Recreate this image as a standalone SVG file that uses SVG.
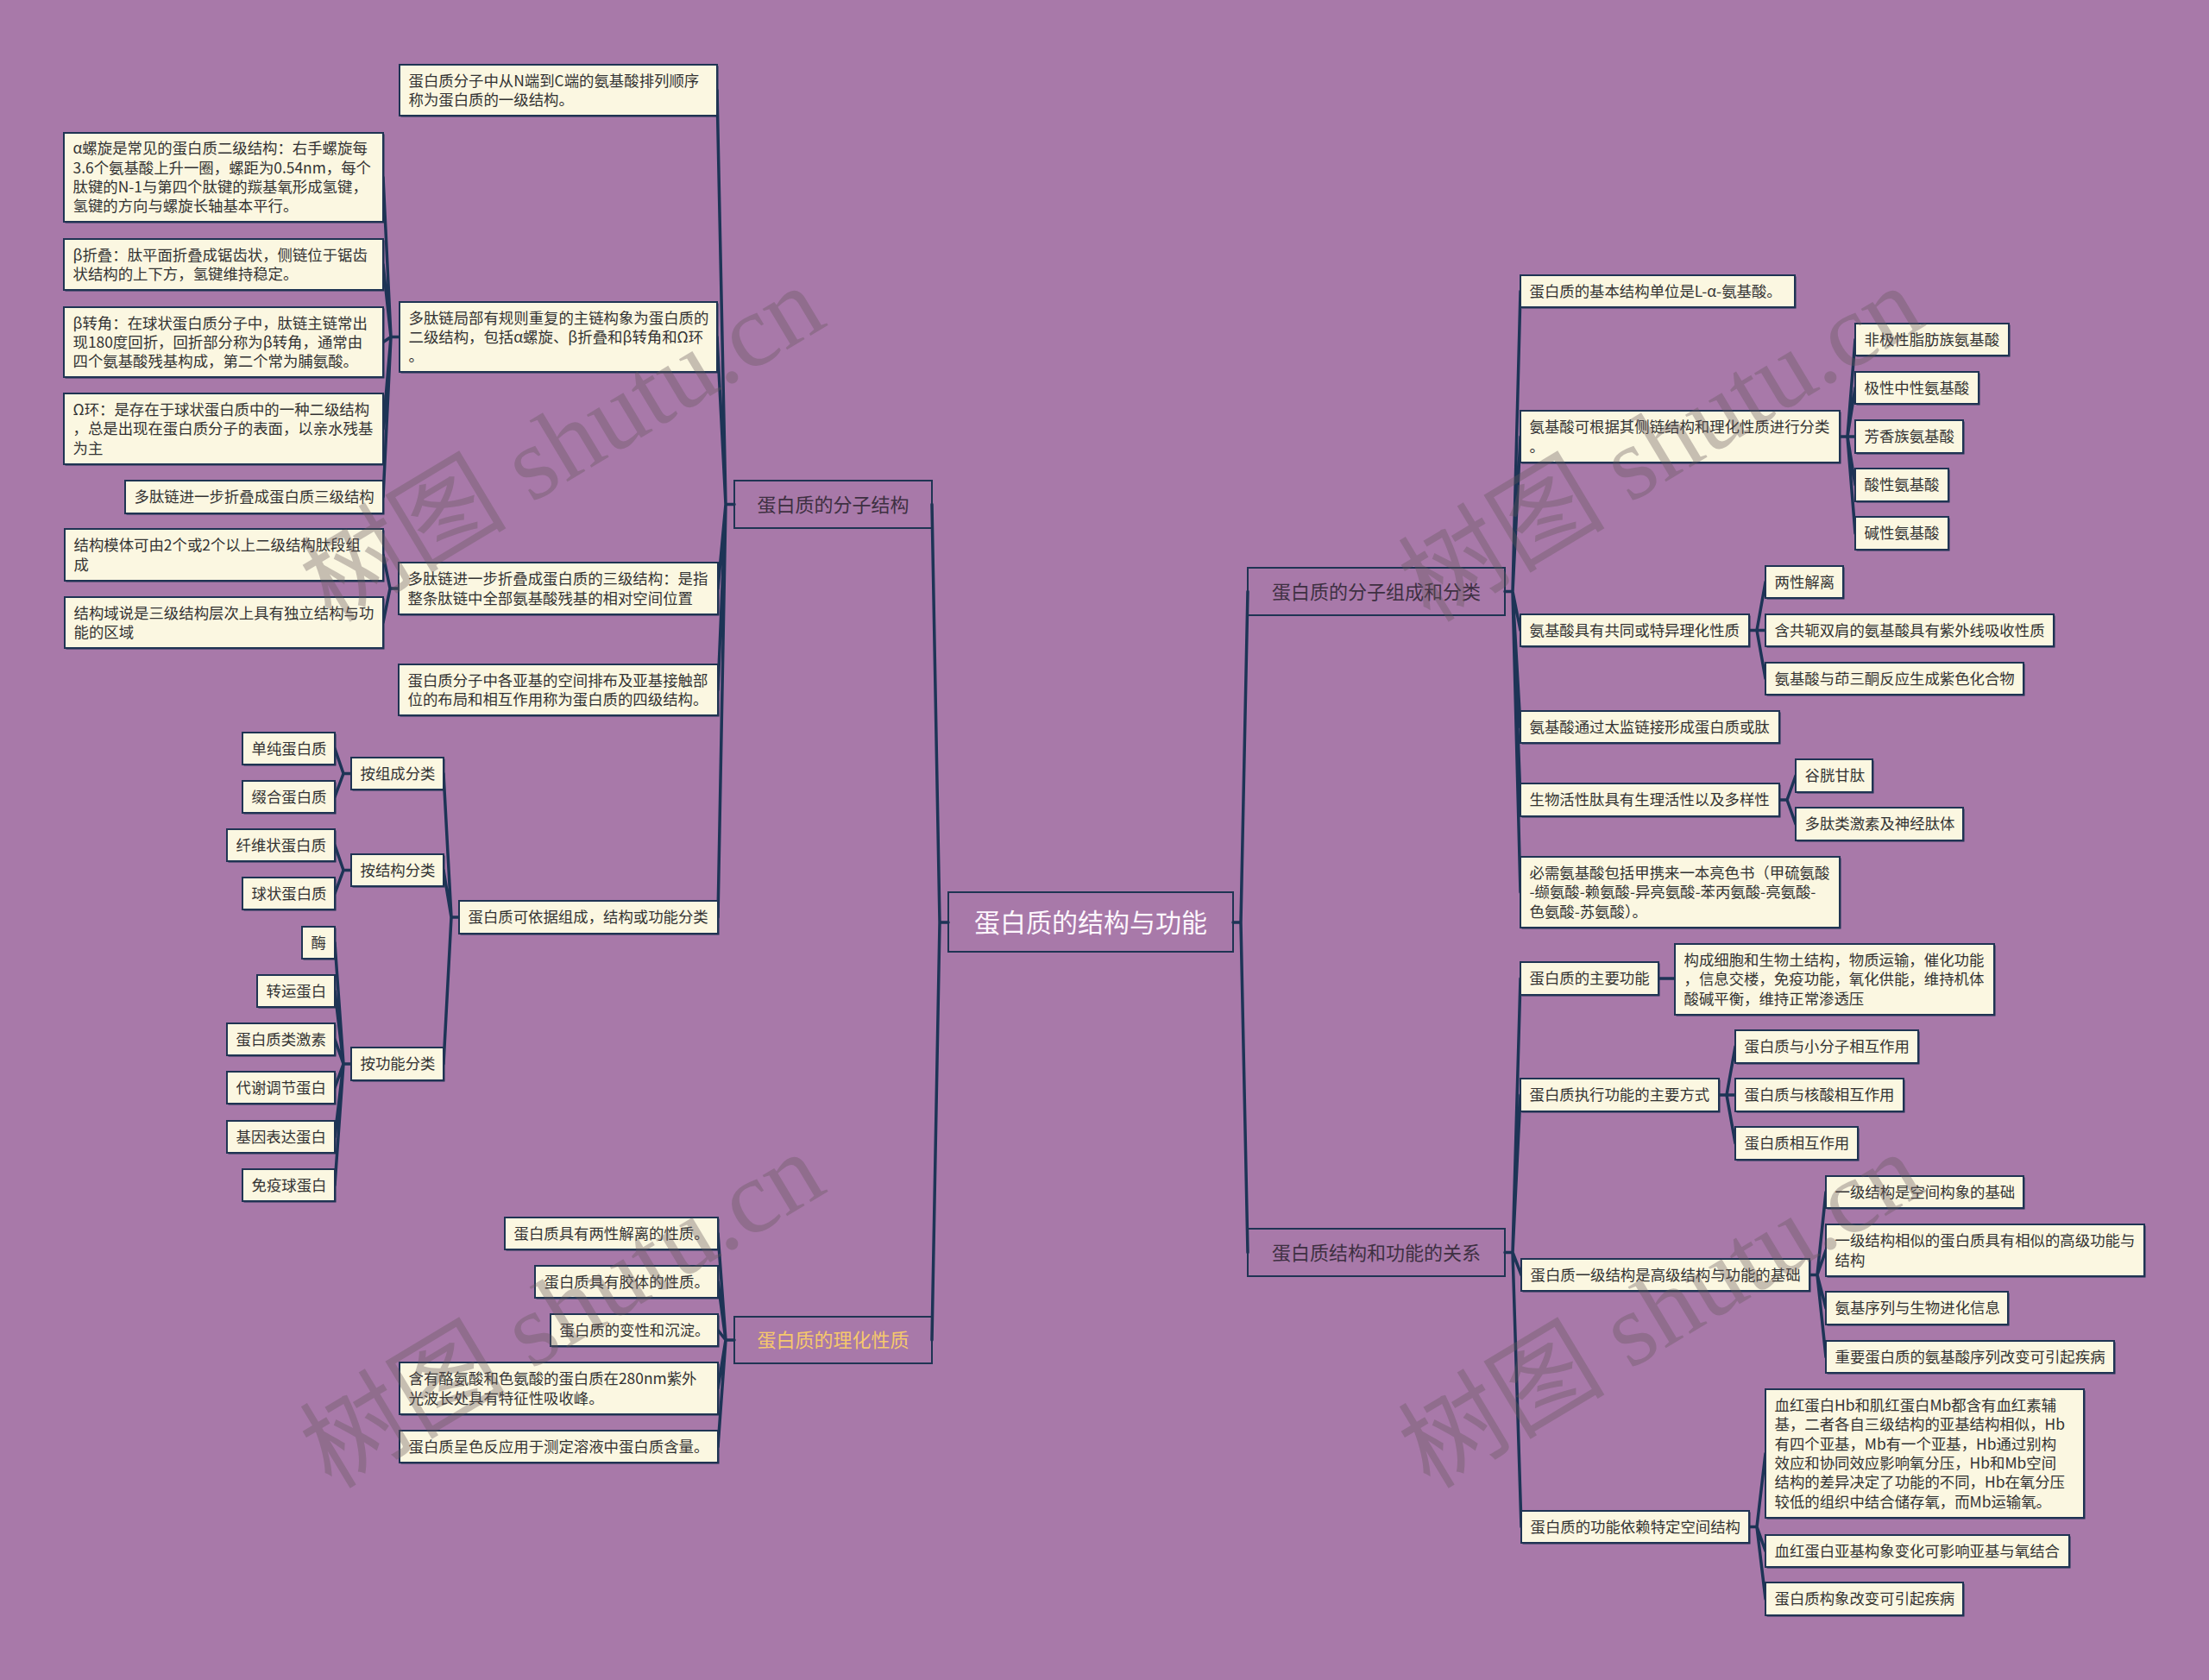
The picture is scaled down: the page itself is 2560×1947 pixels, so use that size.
<svg xmlns="http://www.w3.org/2000/svg" width="2560" height="1947" viewBox="0 0 2560 1947">
<style>
.bgc{fill:#a879a9}
.leaf .sh{fill:#1f3453}
.leaf .bx{fill:#fbf7e1;stroke:#1f3453;stroke-width:2}
.leaf text{font-family:'Noto Sans CJK SC','Noto Sans',sans-serif;font-size:17.4px;fill:#333333}
.l1 rect{fill:none;stroke:#1f3453;stroke-width:2}
.l1 text{font-family:'Noto Sans CJK SC','Noto Sans',sans-serif;font-size:22px;fill:#3e3042;text-anchor:middle}
.root rect{fill:none;stroke:#1f3453;stroke-width:2}
.root text{font-family:'Noto Sans CJK SC','Noto Sans',sans-serif;font-size:30px;fill:#fdf6fd;text-anchor:middle}
.conn path{fill:none;stroke:#1d3456;stroke-width:3.5;stroke-linejoin:round;stroke-linecap:round}
.wm{font-family:'Liberation Serif','Noto Sans CJK SC',serif;font-size:120px;fill:#65575b;opacity:0.35;text-anchor:middle}
</style>
<rect class="bgc" x="0" y="0" width="2560" height="1947"/>

<g id="connectors" class="conn">
<path d="M1099,1069 H1089 L1080,584.5 M1089,1069 L1080,1553"/>
<path d="M1429,1069 H1438 L1446,685.5 M1438,1069 L1446,1451.5"/>
<path d="M851,584.5 H841 L831,104.5 M841,584.5 L831,390.5 M841,584.5 L832,682 M841,584.5 L832,799.5 M841,584.5 L832,1063"/>
<path d="M463,390.5 H453 L444,205.5 M453,390.5 L444,306.5 M453,390.5 L444,396.5 M453,390.5 L444,497 M453,390.5 L444,576"/>
<path d="M462,682 H452 L444,643 M452,682 L444,721.5"/>
<path d="M532,1063 H523 L514,896.5 M523,1063 L514,1008.5 M523,1063 L514,1233"/>
<path d="M407,896.5 H398 L388,867.5 M398,896.5 L388,923.5"/>
<path d="M407,1008.5 H398 L388,979.5 M398,1008.5 L388,1035.5"/>
<path d="M407,1233 H398 L388,1092.5 M398,1233 L388,1148.5 M398,1233 L388,1204.5 M398,1233 L388,1260.5 M398,1233 L388,1317.5 M398,1233 L388,1373.5"/>
<path d="M851,1553 H841 L832,1429.5 M841,1553 L832,1485.5 M841,1553 L832,1541.5 M841,1553 L832,1609 M841,1553 L832,1676.5"/>
<path d="M1744,685.5 H1753 L1762,337.5 M1753,685.5 L1762,506 M1753,685.5 L1762,730.5 M1753,685.5 L1762,842.5 M1753,685.5 L1762,927 M1753,685.5 L1762,1034"/>
<path d="M2132,506 H2141 L2150,393.5 M2141,506 L2150,449.5 M2141,506 L2150,506 M2141,506 L2150,562 M2141,506 L2150,618"/>
<path d="M2027,730.5 H2036 L2046,674.5 M2036,730.5 L2046,730.5 M2036,730.5 L2046,786.5"/>
<path d="M2062,927 H2071 L2081,899 M2071,927 L2081,955"/>
<path d="M1744,1451.5 H1753 L1762,1134 M1753,1451.5 L1762,1269 M1753,1451.5 L1763,1477.5 M1753,1451.5 L1763,1769.5"/>
<path d="M1922,1134 H1941"/>
<path d="M1992,1269 H2001 L2011,1213 M2001,1269 L2011,1269 M2001,1269 L2011,1325"/>
<path d="M2097,1477.5 H2106 L2116,1381.5 M2106,1477.5 L2116,1449 M2106,1477.5 L2116,1516 M2106,1477.5 L2116,1572.5"/>
<path d="M2027,1769.5 H2036 L2046,1684.5 M2036,1769.5 L2046,1797.5 M2036,1769.5 L2046,1853"/>
</g>

<g id="root" class="root"><rect x="1099" y="1034" width="330" height="69"/><text x="1264" y="1080">蛋白质的结构与功能</text></g>

<g id="n-A" class="l1"><rect x="851" y="557" width="229" height="55"/><text x="965.5" y="592.5">蛋白质的分子结构</text></g>
<g id="n-B" class="l1"><rect x="851" y="1526" width="229" height="54"/><text x="965.5" y="1561" style="fill:#f6c86c">蛋白质的理化性质</text></g>
<g id="n-C" class="l1"><rect x="1446" y="658" width="298" height="55"/><text x="1595" y="693.5">蛋白质的分子组成和分类</text></g>
<g id="n-D" class="l1"><rect x="1446" y="1424" width="298" height="55"/><text x="1595" y="1459.5">蛋白质结构和功能的关系</text></g>

<g id="n-A1" class="leaf"><rect class="sh" x="464.5" y="76.5" width="368" height="59"/><rect class="bx" x="463" y="75" width="368" height="59"/><text x="473.5" y="99.6">蛋白质分子中从N端到C端的氨基酸排列顺序<tspan x="473.5" y="121.9">称为蛋白质的一级结构。</tspan></text></g>
<g id="n-A2" class="leaf"><rect class="sh" x="464.5" y="351.5" width="368" height="81"/><rect class="bx" x="463" y="350" width="368" height="81"/><text x="473.5" y="374.5">多肽链局部有规则重复的主链构象为蛋白质的<tspan x="473.5" y="396.8">二级结构，包括α螺旋、β折叠和β转角和Ω环</tspan><tspan x="473.5" y="419.1">。</tspan></text></g>
<g id="n-A2a" class="leaf"><rect class="sh" x="75.5" y="155.5" width="370" height="103"/><rect class="bx" x="74" y="154" width="370" height="103"/><text x="84.5" y="178.4">α螺旋是常见的蛋白质二级结构：右手螺旋每<tspan x="84.5" y="200.7">3.6个氨基酸上升一圈，螺距为0.54nm，每个</tspan><tspan x="84.5" y="223">肽键的N-1与第四个肽键的羰基氧形成氢键，</tspan><tspan x="84.5" y="245.3">氢键的方向与螺旋长轴基本平行。</tspan></text></g>
<g id="n-A2b" class="leaf"><rect class="sh" x="75.5" y="278.5" width="370" height="59"/><rect class="bx" x="74" y="277" width="370" height="59"/><text x="84.5" y="301.7">β折叠：肽平面折叠成锯齿状，侧链位于锯齿<tspan x="84.5" y="324">状结构的上下方，氢键维持稳定。</tspan></text></g>
<g id="n-A2c" class="leaf"><rect class="sh" x="75.5" y="357.5" width="370" height="81"/><rect class="bx" x="74" y="356" width="370" height="81"/><text x="84.5" y="380.5">β转角：在球状蛋白质分子中，肽链主链常出<tspan x="84.5" y="402.8">现180度回折，回折部分称为β转角，通常由</tspan><tspan x="84.5" y="425.1">四个氨基酸残基构成，第二个常为脯氨酸。</tspan></text></g>
<g id="n-A2d" class="leaf"><rect class="sh" x="75.5" y="457.5" width="370" height="82"/><rect class="bx" x="74" y="456" width="370" height="82"/><text x="84.5" y="481">Ω环：是存在于球状蛋白质中的一种二级结构<tspan x="84.5" y="503.3">，总是出现在蛋白质分子的表面，以亲水残基</tspan><tspan x="84.5" y="525.6">为主</tspan></text></g>
<g id="n-A2e" class="leaf"><rect class="sh" x="146.5" y="558.5" width="299" height="38"/><rect class="bx" x="145" y="557" width="299" height="38"/><text x="155.5" y="582.3">多肽链进一步折叠成蛋白质三级结构</text></g>
<g id="n-A3" class="leaf"><rect class="sh" x="463.5" y="653.5" width="370" height="60"/><rect class="bx" x="462" y="652" width="370" height="60"/><text x="472.5" y="677.2">多肽链进一步折叠成蛋白质的三级结构：是指<tspan x="472.5" y="699.5">整条肽链中全部氨基酸残基的相对空间位置</tspan></text></g>
<g id="n-A3a" class="leaf"><rect class="sh" x="76.5" y="614.5" width="369" height="60"/><rect class="bx" x="75" y="613" width="369" height="60"/><text x="85.5" y="638.2">结构模体可由2个或2个以上二级结构肽段组<tspan x="85.5" y="660.5">成</tspan></text></g>
<g id="n-A3b" class="leaf"><rect class="sh" x="76.5" y="693.5" width="369" height="59"/><rect class="bx" x="75" y="692" width="369" height="59"/><text x="85.5" y="716.7">结构域说是三级结构层次上具有独立结构与功<tspan x="85.5" y="739">能的区域</tspan></text></g>
<g id="n-A4" class="leaf"><rect class="sh" x="463.5" y="771.5" width="370" height="59"/><rect class="bx" x="462" y="770" width="370" height="59"/><text x="472.5" y="794.7">蛋白质分子中各亚基的空间排布及亚基接触部<tspan x="472.5" y="817">位的布局和相互作用称为蛋白质的四级结构。</tspan></text></g>
<g id="n-A5" class="leaf"><rect class="sh" x="533.5" y="1045.5" width="300" height="38"/><rect class="bx" x="532" y="1044" width="300" height="38"/><text x="542.5" y="1069.3">蛋白质可依据组成，结构或功能分类</text></g>
<g id="n-A5a" class="leaf"><rect class="sh" x="408.5" y="879.5" width="107" height="37"/><rect class="bx" x="407" y="878" width="107" height="37"/><text x="417.5" y="902.8">按组成分类</text></g>
<g id="n-A5b" class="leaf"><rect class="sh" x="408.5" y="991.5" width="107" height="37"/><rect class="bx" x="407" y="990" width="107" height="37"/><text x="417.5" y="1014.8">按结构分类</text></g>
<g id="n-A5c" class="leaf"><rect class="sh" x="408.5" y="1215.5" width="107" height="38"/><rect class="bx" x="407" y="1214" width="107" height="38"/><text x="417.5" y="1239.3">按功能分类</text></g>
<g id="n-A5a1" class="leaf"><rect class="sh" x="282.5" y="850.5" width="107" height="37"/><rect class="bx" x="281" y="849" width="107" height="37"/><text x="291.5" y="873.8">单纯蛋白质</text></g>
<g id="n-A5a2" class="leaf"><rect class="sh" x="282.5" y="906.5" width="107" height="37"/><rect class="bx" x="281" y="905" width="107" height="37"/><text x="291.5" y="929.8">缀合蛋白质</text></g>
<g id="n-A5b1" class="leaf"><rect class="sh" x="264.5" y="962.5" width="125" height="37"/><rect class="bx" x="263" y="961" width="125" height="37"/><text x="273.5" y="985.8">纤维状蛋白质</text></g>
<g id="n-A5b2" class="leaf"><rect class="sh" x="282.5" y="1018.5" width="107" height="37"/><rect class="bx" x="281" y="1017" width="107" height="37"/><text x="291.5" y="1041.8">球状蛋白质</text></g>
<g id="n-A5c1" class="leaf"><rect class="sh" x="351.5" y="1075.5" width="38" height="37"/><rect class="bx" x="350" y="1074" width="38" height="37"/><text x="360.5" y="1098.8">酶</text></g>
<g id="n-A5c2" class="leaf"><rect class="sh" x="299.5" y="1131.5" width="90" height="37"/><rect class="bx" x="298" y="1130" width="90" height="37"/><text x="308.5" y="1154.8">转运蛋白</text></g>
<g id="n-A5c3" class="leaf"><rect class="sh" x="264.5" y="1187.5" width="125" height="37"/><rect class="bx" x="263" y="1186" width="125" height="37"/><text x="273.5" y="1210.8">蛋白质类激素</text></g>
<g id="n-A5c4" class="leaf"><rect class="sh" x="264.5" y="1243.5" width="125" height="37"/><rect class="bx" x="263" y="1242" width="125" height="37"/><text x="273.5" y="1266.8">代谢调节蛋白</text></g>
<g id="n-A5c5" class="leaf"><rect class="sh" x="264.5" y="1300.5" width="125" height="37"/><rect class="bx" x="263" y="1299" width="125" height="37"/><text x="273.5" y="1323.8">基因表达蛋白</text></g>
<g id="n-A5c6" class="leaf"><rect class="sh" x="282.5" y="1356.5" width="107" height="37"/><rect class="bx" x="281" y="1355" width="107" height="37"/><text x="291.5" y="1379.8">免疫球蛋白</text></g>

<g id="n-B1" class="leaf"><rect class="sh" x="586.5" y="1412.5" width="247" height="37"/><rect class="bx" x="585" y="1411" width="247" height="37"/><text x="595.5" y="1435.8">蛋白质具有两性解离的性质。</text></g>
<g id="n-B2" class="leaf"><rect class="sh" x="621.5" y="1468.5" width="212" height="37"/><rect class="bx" x="620" y="1467" width="212" height="37"/><text x="630.5" y="1491.8">蛋白质具有胶体的性质。</text></g>
<g id="n-B3" class="leaf"><rect class="sh" x="639.5" y="1524.5" width="194" height="37"/><rect class="bx" x="638" y="1523" width="194" height="37"/><text x="648.5" y="1547.8">蛋白质的变性和沉淀。</text></g>
<g id="n-B4" class="leaf"><rect class="sh" x="464.5" y="1580.5" width="369" height="60"/><rect class="bx" x="463" y="1579" width="369" height="60"/><text x="473.5" y="1604.2">含有酪氨酸和色氨酸的蛋白质在280nm紫外<tspan x="473.5" y="1626.5">光波长处具有特征性吸收峰。</tspan></text></g>
<g id="n-B5" class="leaf"><rect class="sh" x="464.5" y="1659.5" width="369" height="37"/><rect class="bx" x="463" y="1658" width="369" height="37"/><text x="473.5" y="1682.8">蛋白质呈色反应用于测定溶液中蛋白质含量。</text></g>

<g id="n-C1" class="leaf"><rect class="sh" x="1763.5" y="320.5" width="318" height="37"/><rect class="bx" x="1762" y="319" width="318" height="37"/><text x="1772.5" y="343.8">蛋白质的基本结构单位是L-α-氨基酸。</text></g>
<g id="n-C2" class="leaf"><rect class="sh" x="1763.5" y="477.5" width="370" height="60"/><rect class="bx" x="1762" y="476" width="370" height="60"/><text x="1772.5" y="501.2">氨基酸可根据其侧链结构和理化性质进行分类<tspan x="1772.5" y="523.5">。</tspan></text></g>
<g id="n-C2a" class="leaf"><rect class="sh" x="2151.5" y="376.5" width="178" height="37"/><rect class="bx" x="2150" y="375" width="178" height="37"/><text x="2160.5" y="399.8">非极性脂肪族氨基酸</text></g>
<g id="n-C2b" class="leaf"><rect class="sh" x="2151.5" y="432.5" width="143" height="37"/><rect class="bx" x="2150" y="431" width="143" height="37"/><text x="2160.5" y="455.8">极性中性氨基酸</text></g>
<g id="n-C2c" class="leaf"><rect class="sh" x="2151.5" y="488.5" width="125" height="38"/><rect class="bx" x="2150" y="487" width="125" height="38"/><text x="2160.5" y="512.3">芳香族氨基酸</text></g>
<g id="n-C2d" class="leaf"><rect class="sh" x="2151.5" y="544.5" width="108" height="38"/><rect class="bx" x="2150" y="543" width="108" height="38"/><text x="2160.5" y="568.3">酸性氨基酸</text></g>
<g id="n-C2e" class="leaf"><rect class="sh" x="2151.5" y="600.5" width="108" height="38"/><rect class="bx" x="2150" y="599" width="108" height="38"/><text x="2160.5" y="624.3">碱性氨基酸</text></g>
<g id="n-C3" class="leaf"><rect class="sh" x="1763.5" y="713.5" width="265" height="37"/><rect class="bx" x="1762" y="712" width="265" height="37"/><text x="1772.5" y="736.8">氨基酸具有共同或特异理化性质</text></g>
<g id="n-C3a" class="leaf"><rect class="sh" x="2047.5" y="657.5" width="90" height="37"/><rect class="bx" x="2046" y="656" width="90" height="37"/><text x="2056.5" y="680.8">两性解离</text></g>
<g id="n-C3b" class="leaf"><rect class="sh" x="2047.5" y="713.5" width="334" height="37"/><rect class="bx" x="2046" y="712" width="334" height="37"/><text x="2056.5" y="736.8">含共轭双肩的氨基酸具有紫外线吸收性质</text></g>
<g id="n-C3c" class="leaf"><rect class="sh" x="2047.5" y="769.5" width="299" height="37"/><rect class="bx" x="2046" y="768" width="299" height="37"/><text x="2056.5" y="792.8">氨基酸与茚三酮反应生成紫色化合物</text></g>
<g id="n-C4" class="leaf"><rect class="sh" x="1763.5" y="825.5" width="300" height="37"/><rect class="bx" x="1762" y="824" width="300" height="37"/><text x="1772.5" y="848.8">氨基酸通过太监链接形成蛋白质或肽</text></g>
<g id="n-C5" class="leaf"><rect class="sh" x="1763.5" y="909.5" width="300" height="38"/><rect class="bx" x="1762" y="908" width="300" height="38"/><text x="1772.5" y="933.3">生物活性肽具有生理活性以及多样性</text></g>
<g id="n-C5a" class="leaf"><rect class="sh" x="2082.5" y="881.5" width="89" height="38"/><rect class="bx" x="2081" y="880" width="89" height="38"/><text x="2091.5" y="905.3">谷胱甘肽</text></g>
<g id="n-C5b" class="leaf"><rect class="sh" x="2082.5" y="937.5" width="194" height="38"/><rect class="bx" x="2081" y="936" width="194" height="38"/><text x="2091.5" y="961.3">多肽类激素及神经肽体</text></g>
<g id="n-C6" class="leaf"><rect class="sh" x="1763.5" y="994.5" width="370" height="82"/><rect class="bx" x="1762" y="993" width="370" height="82"/><text x="1772.5" y="1018">必需氨基酸包括甲携来一本亮色书（甲硫氨酸<tspan x="1772.5" y="1040.3">-缬氨酸-赖氨酸-异亮氨酸-苯丙氨酸-亮氨酸-</tspan><tspan x="1772.5" y="1062.6">色氨酸-苏氨酸）。</tspan></text></g>

<g id="n-D1" class="leaf"><rect class="sh" x="1763.5" y="1116.5" width="160" height="38"/><rect class="bx" x="1762" y="1115" width="160" height="38"/><text x="1772.5" y="1140.3">蛋白质的主要功能</text></g>
<g id="n-D1a" class="leaf"><rect class="sh" x="1942.5" y="1095.5" width="370" height="82"/><rect class="bx" x="1941" y="1094" width="370" height="82"/><text x="1951.5" y="1119">构成细胞和生物土结构，物质运输，催化功能<tspan x="1951.5" y="1141.3">，信息交楼，免疫功能，氧化供能，维持机体</tspan><tspan x="1951.5" y="1163.6">酸碱平衡，维持正常渗透压</tspan></text></g>
<g id="n-D2" class="leaf"><rect class="sh" x="1763.5" y="1251.5" width="230" height="38"/><rect class="bx" x="1762" y="1250" width="230" height="38"/><text x="1772.5" y="1275.3">蛋白质执行功能的主要方式</text></g>
<g id="n-D2a" class="leaf"><rect class="sh" x="2012.5" y="1195.5" width="212" height="38"/><rect class="bx" x="2011" y="1194" width="212" height="38"/><text x="2021.5" y="1219.3">蛋白质与小分子相互作用</text></g>
<g id="n-D2b" class="leaf"><rect class="sh" x="2012.5" y="1251.5" width="195" height="38"/><rect class="bx" x="2011" y="1250" width="195" height="38"/><text x="2021.5" y="1275.3">蛋白质与核酸相互作用</text></g>
<g id="n-D2c" class="leaf"><rect class="sh" x="2012.5" y="1307.5" width="142" height="38"/><rect class="bx" x="2011" y="1306" width="142" height="38"/><text x="2021.5" y="1331.3">蛋白质相互作用</text></g>
<g id="n-D3" class="leaf"><rect class="sh" x="1764.5" y="1460.5" width="334" height="37"/><rect class="bx" x="1763" y="1459" width="334" height="37"/><text x="1773.5" y="1483.8">蛋白质一级结构是高级结构与功能的基础</text></g>
<g id="n-D3a" class="leaf"><rect class="sh" x="2117.5" y="1364.5" width="229" height="37"/><rect class="bx" x="2116" y="1363" width="229" height="37"/><text x="2126.5" y="1387.8">一级结构是空间构象的基础</text></g>
<g id="n-D3b" class="leaf"><rect class="sh" x="2117.5" y="1420.5" width="369" height="60"/><rect class="bx" x="2116" y="1419" width="369" height="60"/><text x="2126.5" y="1444.2">一级结构相似的蛋白质具有相似的高级功能与<tspan x="2126.5" y="1466.5">结构</tspan></text></g>
<g id="n-D3c" class="leaf"><rect class="sh" x="2117.5" y="1498.5" width="211" height="38"/><rect class="bx" x="2116" y="1497" width="211" height="38"/><text x="2126.5" y="1522.3">氨基序列与生物进化信息</text></g>
<g id="n-D3d" class="leaf"><rect class="sh" x="2117.5" y="1555.5" width="334" height="37"/><rect class="bx" x="2116" y="1554" width="334" height="37"/><text x="2126.5" y="1578.8">重要蛋白质的氨基酸序列改变可引起疾病</text></g>
<g id="n-D4" class="leaf"><rect class="sh" x="1764.5" y="1752.5" width="264" height="37"/><rect class="bx" x="1763" y="1751" width="264" height="37"/><text x="1773.5" y="1775.8">蛋白质的功能依赖特定空间结构</text></g>
<g id="n-D4a" class="leaf"><rect class="sh" x="2047.5" y="1611.5" width="369" height="149"/><rect class="bx" x="2046" y="1610" width="369" height="149"/><text x="2056.5" y="1635">血红蛋白Hb和肌红蛋白Mb都含有血红素辅<tspan x="2056.5" y="1657.3">基，二者各自三级结构的亚基结构相似，Hb</tspan><tspan x="2056.5" y="1679.6">有四个亚基，Mb有一个亚基，Hb通过别构</tspan><tspan x="2056.5" y="1701.9">效应和协同效应影响氧分压，Hb和Mb空间</tspan><tspan x="2056.5" y="1724.2">结构的差异决定了功能的不同，Hb在氧分压</tspan><tspan x="2056.5" y="1746.5">较低的组织中结合储存氧，而Mb运输氧。</tspan></text></g>
<g id="n-D4b" class="leaf"><rect class="sh" x="2047.5" y="1780.5" width="352" height="37"/><rect class="bx" x="2046" y="1779" width="352" height="37"/><text x="2056.5" y="1803.8">血红蛋白亚基构象变化可影响亚基与氧结合</text></g>
<g id="n-D4c" class="leaf"><rect class="sh" x="2047.5" y="1835.5" width="229" height="38"/><rect class="bx" x="2046" y="1834" width="229" height="38"/><text x="2056.5" y="1859.3">蛋白质构象改变可引起疾病</text></g>

<g id="watermarks">
<text class="wm" x="652" y="555" transform="rotate(-31 652 515)">树图 shutu.cn</text>
<text class="wm" x="652" y="1559" transform="rotate(-31 652 1519)">树图 shutu.cn</text>
<text class="wm" x="1925" y="555" transform="rotate(-31 1925 515)">树图 shutu.cn</text>
<text class="wm" x="1925" y="1559" transform="rotate(-31 1925 1519)">树图 shutu.cn</text>
</g>
</svg>
